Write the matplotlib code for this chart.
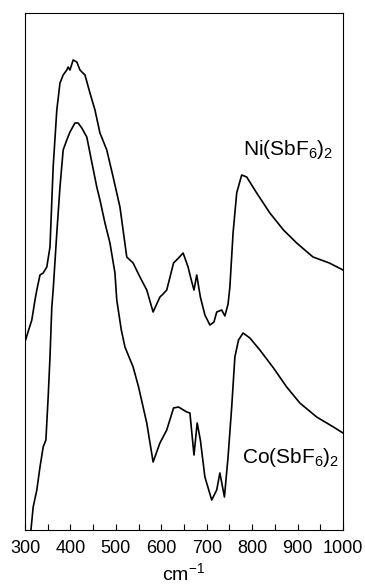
import matplotlib
matplotlib.use('Agg')
import matplotlib.pyplot as plt
from matplotlib.ticker import MultipleLocator

plt.rcParams['font.family'] = ['Liberation Sans', 'DejaVu Sans']
plt.rcParams['mathtext.default'] = 'regular'

# wavenumbers (cm-1) and relative intensity (arbitrary units)
ni_wn = [300, 308, 315, 322, 326, 333, 340, 348, 355, 362, 370, 377, 384, 392, 395, 399,
         406, 414, 421, 432, 443, 454, 465, 480, 494, 509, 524, 538, 553, 568, 582,
         590, 597, 604, 612, 627, 638, 648, 659, 666, 672, 678, 686, 696, 707, 716,
         722, 733, 740, 747, 751, 758, 766, 777, 788, 810, 839, 869, 898, 934, 970, 1000]
ni_int = [188, 200, 210, 230, 240, 255, 257, 263, 283, 363, 420, 447, 455, 460, 463, 460,
          470, 468, 460, 455, 437, 420, 397, 380, 353, 323, 273, 267, 253, 240, 218,
          226, 233, 236, 240, 267, 272, 277, 263, 250, 240, 255, 233, 215, 205, 208,
          218, 220, 214, 226, 243, 297, 337, 355, 353, 337, 317, 300, 287, 273, 267, 260]

co_wn = [312, 318, 326, 333, 340, 346, 351, 355, 359, 362, 370, 377, 384, 392, 399,
         410, 417, 425, 436, 443, 458, 465, 476, 487, 498, 502, 512, 520, 538, 550, 568,
         582, 597, 612, 627, 638, 656, 663, 672, 679, 686, 696, 711, 722, 729, 739,
         747, 755, 762, 770, 780, 795, 817, 847, 876, 905, 942, 979, 1000]
co_int = [-5, 23, 40, 63, 83, 90, 133, 173, 223, 240, 297, 343, 380, 390, 398,
          407, 407, 402, 393, 377, 343, 330, 307, 287, 257, 230, 200, 183, 163, 143, 107,
          68, 87, 100, 122, 123, 118, 117, 75, 107, 90, 53, 30, 40, 57, 33,
          73, 123, 173, 190, 197, 192, 180, 162, 143, 127, 113, 103, 97]

fig = plt.figure(figsize=(3.65, 5.85), dpi=100)
ax = fig.add_axes([25 / 365, 55 / 585, 318 / 365, 517 / 585])

ax.plot(ni_wn, ni_int, color='black', lw=1.2)
ax.plot(co_wn, co_int, color='black', lw=1.2)

ax.set_xlim(300, 1000)
ax.set_ylim(0, 517)

ax.text(780, 375, 'Ni(SbF$_6$)$_2$', fontsize=15, va='baseline', ha='left')
ax.text(778, 67, 'Co(SbF$_6$)$_2$', fontsize=15, va='baseline', ha='left')

ax.set_yticks([])
ax.xaxis.set_major_locator(MultipleLocator(100))
ax.xaxis.set_minor_locator(MultipleLocator(50))
ax.tick_params(axis='x', which='both', direction='in', length=4, width=0.8,
               labelsize=13, pad=7)
for s in ax.spines.values():
    s.set_linewidth(0.8)
ax.set_xlabel('cm$^{-1}$', fontsize=14, labelpad=4)

fig.savefig('out.png', dpi=100)
